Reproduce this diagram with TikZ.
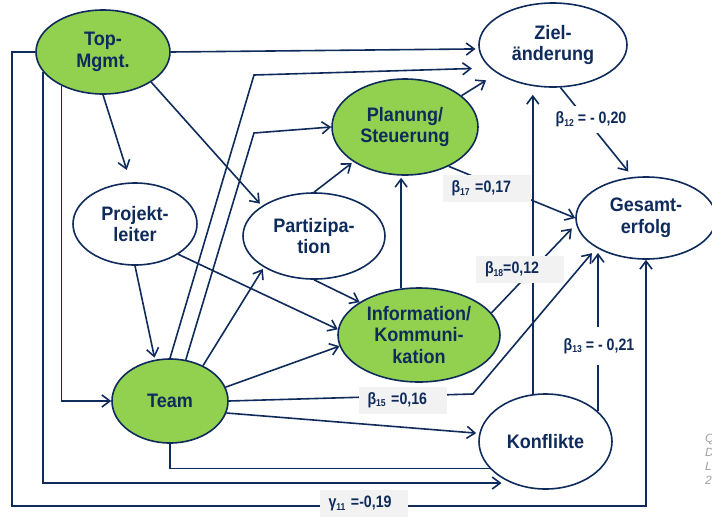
\documentclass[tikz,border=0pt]{standalone}
\usepackage{fontspec}
\setmainfont{Liberation Sans}
\newfontfamily\nodefont[FakeStretch=0.925]{Liberation Sans}
\newfontfamily\labfont[FakeStretch=0.86]{Liberation Sans}
\usetikzlibrary{arrows.meta,shapes.geometric,calc}
\definecolor{navy}{HTML}{0F2B5B}
\definecolor{grn}{HTML}{92D050}
\definecolor{lbox}{HTML}{F2F2F2}
\definecolor{notegrey}{HTML}{A0A0A0}
\newcommand\sbx[1]{\raisebox{-2.5pt}{\fontsize{10}{10}\selectfont #1}}
\begin{document}
\begin{tikzpicture}[x=1pt,y=-1pt,
  ell/.style={ellipse, draw=navy, line width=1.6pt, inner sep=0pt, align=center,
    text=navy, font=\nodefont\fontsize{19.5}{21.5}\selectfont\bfseries},
  gell/.style={ell, fill=grn},
  wel/.style={ell, fill=white},
  arr/.style={draw=navy, line width=1.6pt, -{Straight Barb[length=8pt,width=12pt]}},
  ln/.style={draw=navy, line width=1.6pt},
  gbox/.style={fill=lbox, text=navy, font=\labfont\fontsize{16.5}{18}\selectfont\bfseries,
    inner xsep=9pt, inner ysep=0pt, text width=70pt, align=left, minimum height=27pt},
  wbox/.style={fill=white, text=navy, font=\labfont\fontsize{16.5}{18}\selectfont\bfseries,
    inner sep=0pt, minimum width=75pt, minimum height=27pt}
]
\useasboundingbox (0,0) rectangle (712,517);

% nodes
\node[gell, minimum width=134, minimum height=84] (tm) at (103,52) {Top-\\Mgmt.};
\node[wel, minimum width=124, minimum height=82] (pl) at (135,224) {Projekt-\\leiter};
\node[wel, minimum width=142, minimum height=86] (pa) at (314,236) {Partizipa-\\tion};
\node[gell, minimum width=146, minimum height=96] (ps) at (405,127) {Planung/\\Steuerung};
\node[wel, minimum width=148, minimum height=84] (zi) at (553,45) {Ziel-\\änderung};
\node[wel, minimum width=140, minimum height=82] (ge) at (646,218) {Gesamt-\\erfolg};
\node[gell, minimum width=162, minimum height=94] (ik) at (419,335) {Information/\\Kommuni-\\kation};
\node[gell, minimum width=116, minimum height=84] (te) at (170,401) {Team};
\node[wel, minimum width=133, minimum height=95] (ko) at (545.5,441.5) {Konflikte};

% connectors from Top-Mgmt
\draw[arr, shorten >=3pt] (tm.east) -- (zi.183);
\draw[arr, shorten >=13pt] (tm.south) -- (pl.96);
\draw[arr, shorten >=3pt] (tm.-32) -- (pa.150);
\draw[arr] (tm.west) -- (12,52) -- (12,506) -| (ge.south);
\draw[arr] (tm.198) -- (tm.198 |- 0,483) -- ($(ko.center)+(-44,41.5)$);
\draw[arr] (tm.219) -- (tm.219 |- te.west) -- (te.west);

% Projektleiter
\draw[arr, shorten >=2pt] (pl.south) -- (te.110);
\draw[arr] (pl.-35) -- (ik.176);

% Partizipation
\draw[arr, shorten >=2pt] (pa.north) -- (ps.214);
\draw[arr] (pa.south) -- (ik.151);

% Team
\draw[arr, shorten >=2pt] (te.47) -- (pa.212);
\draw[arr] (te.14) -- (ik.188);
\draw[arr] (te.69) -- (254,133) -- (ps.west);
\draw[arr, shorten >=18pt] (te.north) -- (254,75) -- (zi.200);
\draw[arr, shorten >=3pt] (te.-12) -- (ko.173);
\draw[arr, shorten >=7pt] (te.east) -- (473,394) -- (ge.211);
\draw[ln] (te.south) |- (ko.206);

% Planung/Steuerung
\draw[arr, shorten >=13pt] (ps.29) -- (zi.207);
\draw[arr] (ps.-42) -- (ge.west);

% Zielaenderung
\draw[arr, shorten >=7pt] (zi.-80) -- (ge.108);

% Information/Kommunikation
\draw[arr, shorten >=2pt] (ik.111) -- (ik.111 |- ps.south);
\draw[arr, shorten >=6pt] (ik.17) -- (ge.185);

% Konflikte
\draw[arr, shorten >=7pt] (ko.105) -- (ko.105 |- zi.south);
\draw[arr] (ko.30) -- ($(ko.30 |- ge.center)+(0,35)$);

% labels
\node[gbox] (b17) at (486.5,188.5) {β\sbx{17} =0,17};
\node[gbox] (b18) at (520,269.5) {β\sbx{18}=0,12};
\node[gbox] (b15) at (402.5,400) {β\sbx{15} =0,16};
\node[gbox] (g11) at (363.5,503.5) {γ\sbx{11} =-0,19};
\node[wbox] (b12) at (591,119.5) {β\sbx{12} = - 0,20};
\node[wbox, minimum height=38pt] (b13) at (599,346) {β\sbx{13} = - 0,21};

% cut-off source note
\node[anchor=north west, align=left, inner sep=0pt, text=notegrey,
  font=\fontsize{12}{14}\selectfont\itshape] (src) at (705,434) {Q\\D\\L\\2};
\end{tikzpicture}
\end{document}
